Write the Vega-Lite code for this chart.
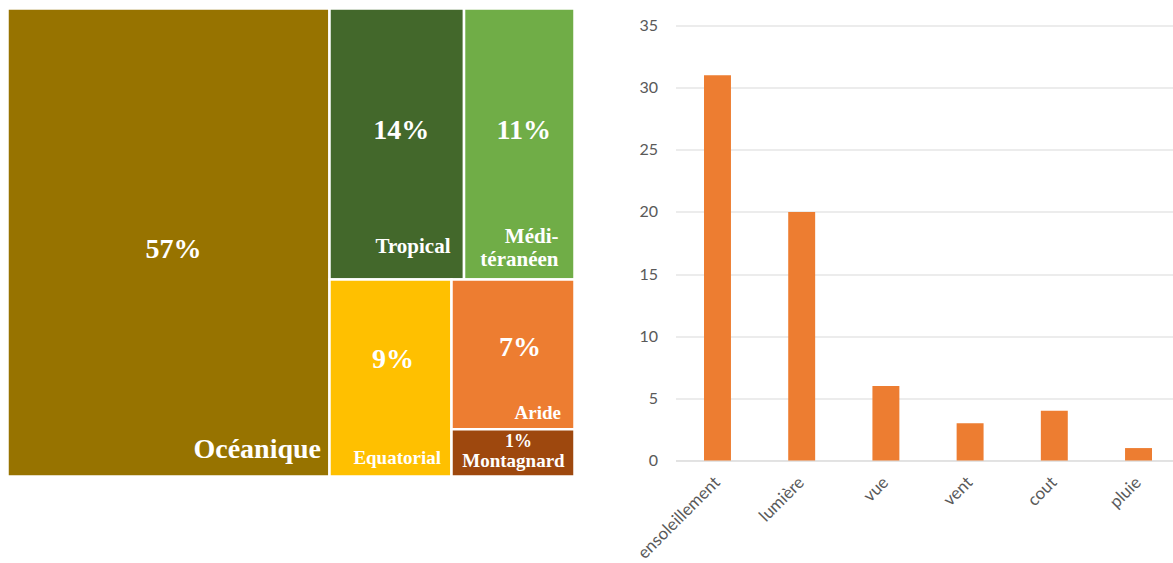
{
  "$schema": "https://vega.github.io/schema/vega-lite/v6.json",
  "background": "white",
  "padding": {"left": 5.5, "top": 6.5, "right": 0, "bottom": 0},
  "datasets": {
    "climats": [
      {"climat": "Océanique", "part": 56.9, "etiquette": "57%", "libelle": "Océanique"},
      {"climat": "Tropical", "part": 13.7, "etiquette": "14%", "libelle": "Tropical"},
      {"climat": "Méditerranéen", "part": 11.25, "etiquette": "11%", "libelle": "Médi-\ntéranéen"},
      {"climat": "Equatorial", "part": 9.06, "etiquette": "9%", "libelle": "Equatorial"},
      {"climat": "Aride", "part": 6.89, "etiquette": "7%", "libelle": "Aride"},
      {"climat": "Montagnard", "part": 2.17, "etiquette": "1%", "libelle": "Montagnard"}
    ],
    "criteres": [
      {"critere": "ensoleillement", "n": 31},
      {"critere": "lumière", "n": 20},
      {"critere": "vue", "n": 6},
      {"critere": "vent", "n": 3},
      {"critere": "cout", "n": 4},
      {"critere": "pluie", "n": 1}
    ]
  },
  "config": {
    "view": {"stroke": null},
    "text": {"font": "Liberation Serif", "fontWeight": "bold", "color": "white"}
  },
  "spacing": 57,
  "bounds": "full",
  "hconcat": [
    {
      "spacing": 0,
      "bounds": "flush",
      "hconcat": [
        {
          "width": 322,
          "height": 468,
          "data": {"name": "climats"},
          "transform": [{"filter": "datum.climat === 'Océanique'"}],
          "layer": [
            {
              "mark": {"type": "rect", "stroke": "white", "strokeWidth": 2.5},
              "encoding": {
                "color": {"field": "climat", "type": "nominal", "legend": null,
                  "scale": {"domain": ["Océanique", "Tropical", "Méditerranéen", "Equatorial", "Aride", "Montagnard"],
                            "range": ["#977300", "#43682B", "#70AD47", "#FFC000", "#ED7D31", "#9E480E"]}}
              }
            },
            {
              "mark": {"type": "text", "fontSize": 28, "align": "center", "baseline": "alphabetic", "dx": 5, "dy": 15},
              "encoding": {"text": {"field": "etiquette"}}
            },
            {
              "mark": {"type": "text", "fontSize": 28, "align": "right", "baseline": "alphabetic", "dx": -8.5, "dy": -19},
              "encoding": {"text": {"field": "libelle"}, "x": {"value": "width"}, "y": {"value": "height"}}
            }
          ]
        },
        {
          "spacing": 0,
          "bounds": "flush",
          "vconcat": [
            {
              "width": 245,
              "height": 271,
              "data": {"name": "climats"},
              "transform": [{"filter": {"field": "climat", "oneOf": ["Tropical", "Méditerranéen"]}}],
              "layer": [
                {
                  "transform": [{"stack": "part", "groupby": [], "sort": [{"field": "part", "order": "descending"}], "offset": "normalize", "as": ["x0", "x1"]}],
                  "mark": {"type": "rect", "stroke": "white", "strokeWidth": 2.5},
                  "encoding": {
                    "x": {"field": "x0", "type": "quantitative", "axis": null, "scale": {"domain": [0, 1], "nice": false}},
                    "x2": {"field": "x1"},
                    "color": {"field": "climat", "type": "nominal", "legend": null,
                      "scale": {"domain": ["Océanique", "Tropical", "Méditerranéen", "Equatorial", "Aride", "Montagnard"],
                                "range": ["#977300", "#43682B", "#70AD47", "#FFC000", "#ED7D31", "#9E480E"]}}
                  }
                },
                {
                  "mark": {"type": "text", "fontSize": 28, "align": "center", "baseline": "alphabetic", "dx": 4.5, "dy": -5.5},
                  "encoding": {
                    "x": {"field": "part", "type": "quantitative", "stack": "normalize", "bandPosition": 0.5, "axis": null},
                    "detail": {"field": "climat"},
                    "order": {"field": "part", "sort": "descending"},
                    "text": {"field": "etiquette"}
                  }
                },
                {
                  "transform": [
                    {"stack": "part", "groupby": [], "sort": [{"field": "part", "order": "descending"}], "offset": "normalize", "as": ["x0", "x1"]},
                    {"filter": "datum.climat === 'Tropical'"}
                  ],
                  "mark": {"type": "text", "fontSize": 21, "align": "right", "baseline": "alphabetic", "dx": -13.5, "dy": -27},
                  "encoding": {"x": {"field": "x1", "type": "quantitative"}, "y": {"value": "height"}, "text": {"field": "libelle"}}
                },
                {
                  "transform": [
                    {"stack": "part", "groupby": [], "sort": [{"field": "part", "order": "descending"}], "offset": "normalize", "as": ["x0", "x1"]},
                    {"filter": "datum.climat === 'Méditerranéen'"}
                  ],
                  "mark": {"type": "text", "fontSize": 21, "align": "right", "baseline": "alphabetic", "lineBreak": "\n", "lineHeight": 23, "dx": -16, "dy": -37},
                  "encoding": {"x": {"field": "x1", "type": "quantitative"}, "y": {"value": "height"}, "text": {"field": "libelle"}}
                }
              ]
            },
            {
              "spacing": 0,
              "bounds": "flush",
              "hconcat": [
                {
                  "width": 122,
                  "height": 197,
                  "data": {"name": "climats"},
                  "transform": [{"filter": "datum.climat === 'Equatorial'"}],
                  "layer": [
                    {
                      "mark": {"type": "rect", "stroke": "white", "strokeWidth": 2.5},
                      "encoding": {
                        "color": {"field": "climat", "type": "nominal", "legend": null,
                          "scale": {"domain": ["Océanique", "Tropical", "Méditerranéen", "Equatorial", "Aride", "Montagnard"],
                                    "range": ["#977300", "#43682B", "#70AD47", "#FFC000", "#ED7D31", "#9E480E"]}}
                      }
                    },
                    {
                      "mark": {"type": "text", "fontSize": 28, "align": "center", "baseline": "alphabetic", "dx": 2.5, "dy": -10.5},
                      "encoding": {"text": {"field": "etiquette"}}
                    },
                    {
                      "mark": {"type": "text", "fontSize": 19, "align": "right", "baseline": "alphabetic", "dx": -10.5, "dy": -13},
                      "encoding": {"text": {"field": "libelle"}, "x": {"value": "width"}, "y": {"value": "height"}}
                    }
                  ]
                },
                {
                  "width": 123,
                  "height": 197,
                  "data": {"name": "climats"},
                  "transform": [
                    {"filter": {"field": "climat", "oneOf": ["Aride", "Montagnard"]}},
                    {"stack": "part", "groupby": [], "sort": [{"field": "part", "order": "ascending"}], "offset": "normalize", "as": ["y0", "y1"]}
                  ],
                  "layer": [
                    {
                      "mark": {"type": "rect", "stroke": "white", "strokeWidth": 2.5},
                      "encoding": {
                        "y": {"field": "y0", "type": "quantitative", "axis": null, "scale": {"domain": [0, 1], "nice": false}},
                        "y2": {"field": "y1"},
                        "color": {"field": "climat", "type": "nominal", "legend": null,
                          "scale": {"domain": ["Océanique", "Tropical", "Méditerranéen", "Equatorial", "Aride", "Montagnard"],
                                    "range": ["#977300", "#43682B", "#70AD47", "#FFC000", "#ED7D31", "#9E480E"]}}
                      }
                    },
                    {
                      "transform": [{"filter": "datum.climat === 'Aride'"}],
                      "mark": {"type": "text", "fontSize": 28, "align": "center", "baseline": "alphabetic", "dx": 7, "dy": 76},
                      "encoding": {"y": {"field": "y1", "type": "quantitative"}, "text": {"field": "etiquette"}}
                    },
                    {
                      "transform": [{"filter": "datum.climat === 'Aride'"}],
                      "mark": {"type": "text", "fontSize": 19, "align": "right", "baseline": "alphabetic", "dx": -13.5, "dy": -10.5},
                      "encoding": {"y": {"field": "y0", "type": "quantitative"}, "x": {"value": "width"}, "text": {"field": "libelle"}}
                    },
                    {
                      "transform": [{"filter": "datum.climat === 'Montagnard'"}],
                      "mark": {"type": "text", "fontSize": 18, "align": "center", "baseline": "alphabetic", "dx": 5.5, "dy": 17.5},
                      "encoding": {"y": {"field": "y1", "type": "quantitative"}, "text": {"field": "etiquette"}}
                    },
                    {
                      "transform": [{"filter": "datum.climat === 'Montagnard'"}],
                      "mark": {"type": "text", "fontSize": 19, "align": "center", "baseline": "alphabetic", "dx": 0.5, "dy": 37.5},
                      "encoding": {"y": {"field": "y1", "type": "quantitative"}, "text": {"field": "libelle"}}
                    }
                  ]
                }
              ]
            }
          ]
        }
      ]
    },
    {
      "width": 498,
      "height": 452,
      "data": {"name": "criteres"},
      "mark": {"type": "bar", "color": "#ED7D31"},
      "encoding": {
        "x": {
          "field": "critere", "type": "nominal", "sort": null,
          "scale": {"paddingInner": 0.68, "paddingOuter": 0.297, "align": 0.57},
          "axis": {"title": null, "labelAngle": -45, "labelAlign": "right", "labelBaseline": "middle", "labelPadding": 19,
                   "labelFont": "Lato", "labelFontSize": 17, "labelColor": "#595959", "ticks": false,
                   "domainColor": "#d9d9d9", "domainWidth": 1, "labelOverlap": false, "labelBound": false}
        },
        "y": {
          "field": "n", "type": "quantitative",
          "scale": {"domain": [0, 36.37], "nice": false},
          "axis": {"title": null, "values": [0, 5, 10, 15, 20, 25, 30, 35], "domain": false, "ticks": false,
                   "gridColor": "#d9d9d9", "gridWidth": 1, "labelFont": "Lato", "labelFontSize": 16,
                   "labelColor": "#595959", "labelPadding": 18}
        }
      }
    }
  ]
}
